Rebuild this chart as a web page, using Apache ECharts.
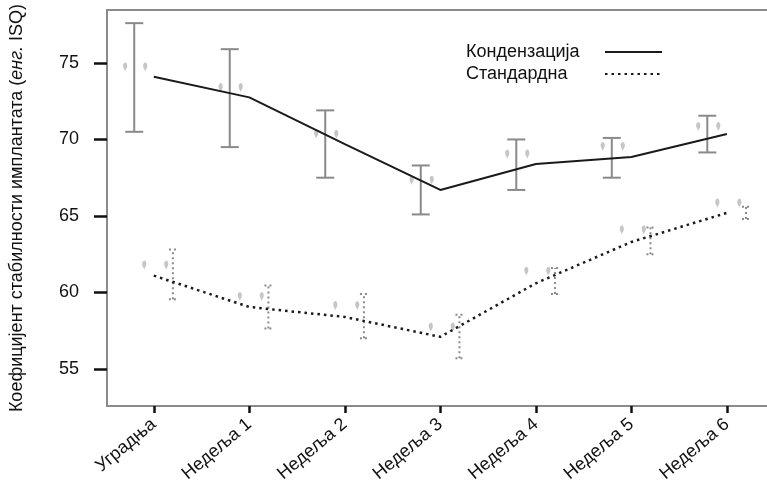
<!DOCTYPE html>
<html>
<head>
<meta charset="utf-8">
<script src="https://cdn.jsdelivr.net/npm/echarts@6/dist/echarts.min.js"></script>
<style>
html,body{margin:0;padding:0;background:#fff;}
#chart{width:767px;height:493px;}
</style>
</head>
<body>
<div id="chart"></div>
<script>
// ---- data ----
var categories = ['Уградња', 'Недеља 1', 'Недеља 2', 'Недеља 3', 'Недеља 4', 'Недеља 5', 'Недеља 6'];
var seriesNames = ['Кондензација', 'Стандардна'];
var yTicks = [55, 60, 65, 70, 75];

var condMean = [74.1, 72.75, 69.7, 66.7, 68.4, 68.85, 70.35];
var condHigh = [77.6, 75.9, 71.9, 68.3, 70.0, 70.1, 71.55];
var condLow  = [70.5, 69.5, 67.5, 65.1, 66.7, 67.5, 69.15];
var condGlyph = [74.4, 73.05, 70.0, 67.0, 68.7, 69.2, 70.5];

var stdMean = [61.1, 59.05, 58.4, 57.1, 60.6, 63.3, 65.2];
var stdHigh = [62.8, 60.45, 59.9, 58.55, 61.6, 64.25, 65.6];
var stdLow  = [59.55, 57.65, 57.0, 55.7, 59.9, 62.5, 64.8];
var stdGlyph = [61.45, 59.4, 58.8, 57.4, 61.05, 63.75, 65.5];

// ---- helpers ----
function pts(arr) { return arr.map(function (v, i) { return [i, v]; }); }
function bars(lo, hi) { return lo.map(function (v, i) { return [i, v, hi[i]]; }); }
function glyphPts(arr, offs) {
  var out = [];
  arr.forEach(function (v, i) { offs.forEach(function (o) { out.push([i + o, v]); }); });
  return out;
}
function errorBarRenderer(offset, dash) {
  return function (params, api) {
    var x = api.value(0) + offset;
    var lo = api.coord([x, api.value(1)]);
    var hi = api.coord([x, api.value(2)]);
    var cap = dash ? 4 : 9;
    var style = { stroke: '#8a8a8a', lineWidth: 2, lineDash: dash ? [2, 3] : null, fill: null };
    return {
      type: 'group',
      children: [
        { type: 'line', shape: { x1: lo[0], y1: lo[1], x2: hi[0], y2: hi[1] }, style: style },
        { type: 'line', shape: { x1: lo[0] - cap, y1: lo[1], x2: lo[0] + cap, y2: lo[1] }, style: style },
        { type: 'line', shape: { x1: hi[0] - cap, y1: hi[1], x2: hi[0] + cap, y2: hi[1] }, style: style }
      ]
    };
  };
}

var chart = echarts.init(document.getElementById('chart'), null, { renderer: 'canvas' });
var FONT = 'Liberation Sans, Arial, sans-serif';
var X_MIN = -0.49, X_MAX = 6.42;

var option = {
  backgroundColor: '#ffffff',
  animation: false,
  textStyle: { fontFamily: FONT },
  grid: { left: 107, right: 0, top: 10, bottom: 87 },
  legend: {
    data: seriesNames,
    orient: 'vertical',
    left: 461,
    top: 38,
    align: 'right',
    itemWidth: 57,
    itemHeight: 14,
    itemGap: 4,
    itemStyle: { opacity: 0 },
    formatter: function (n) { return '{a|' + n + '}'; },
    textStyle: {
      fontFamily: FONT,
      rich: { a: { width: 134, align: 'left', fontSize: 18, lineHeight: 20, color: '#111', fontFamily: FONT } }
    }
  },
  xAxis: [{
    type: 'value',
    min: X_MIN,
    max: X_MAX,
    splitLine: { show: false },
    axisLine: { show: true, onZero: false, lineStyle: { color: '#8a8a8a', width: 2 } },
    axisTick: { show: true, customValues: [0, 1, 2, 3, 4, 5, 6], length: 7, lineStyle: { color: '#111', width: 2.5 } },
    axisLabel: {
      customValues: [0, 1, 2, 3, 4, 5, 6],
      formatter: function (v) { return categories[Math.round(v)]; },
      rotate: 40,
      fontSize: 18,
      color: '#111',
      margin: 16,
      fontFamily: FONT
    }
  }, {
    type: 'value',
    position: 'top',
    min: X_MIN,
    max: X_MAX,
    splitLine: { show: false },
    axisLine: { show: true, onZero: false, lineStyle: { color: '#8a8a8a', width: 2 } },
    axisTick: { show: false },
    axisLabel: { show: false }
  }],
  yAxis: {
    type: 'value',
    min: 52.58,
    max: 78.46,
    splitLine: { show: false },
    axisLine: { show: true, onZero: false, lineStyle: { color: '#8a8a8a', width: 2 } },
    axisTick: { show: true, customValues: yTicks, length: 13, lineStyle: { color: '#111', width: 2.5 } },
    axisLabel: { customValues: yTicks, fontSize: 18, color: '#111', margin: 28, fontFamily: FONT },
    name: '{n|Коефицијент стабилности имплантата (}{i|енг.}{n| ISQ)}',
    nameLocation: 'middle',
    nameGap: 81,
    nameTextStyle: {
      rich: {
        n: { fontSize: 18, color: '#111', fontFamily: FONT },
        i: { fontSize: 18, color: '#111', fontStyle: 'italic', fontFamily: FONT }
      }
    }
  },
  series: [
    {
      name: 'glyphsCond', type: 'scatter', silent: true,
      data: glyphPts(condGlyph, [-0.3, -0.09]),
      symbol: 'pin', symbolSize: [7, 11],
      itemStyle: { color: '#b8b8b8' }, z: 1
    },
    {
      name: 'glyphsStd', type: 'scatter', silent: true,
      data: glyphPts(stdGlyph, [-0.1, 0.13]),
      symbol: 'pin', symbolSize: [7, 11],
      itemStyle: { color: '#b8b8b8' }, z: 1
    },
    {
      name: 'errCond', type: 'custom', silent: true,
      data: bars(condLow, condHigh),
      renderItem: errorBarRenderer(-0.205, false), z: 2
    },
    {
      name: 'errStd', type: 'custom', silent: true,
      data: bars(stdLow, stdHigh),
      renderItem: errorBarRenderer(0.2, true), z: 2
    },
    {
      name: seriesNames[0], type: 'line',
      data: pts(condMean),
      symbol: 'none',
      lineStyle: { color: '#1a1a1a', width: 2 },
      itemStyle: { color: '#1a1a1a' }, z: 5
    },
    {
      name: seriesNames[1], type: 'line',
      data: pts(stdMean),
      symbol: 'none',
      lineStyle: { color: '#1a1a1a', width: 2.5, type: [2.5, 4] },
      itemStyle: { color: '#1a1a1a' }, z: 5
    }
  ]
};
chart.setOption(option);
</script>
</body>
</html>
